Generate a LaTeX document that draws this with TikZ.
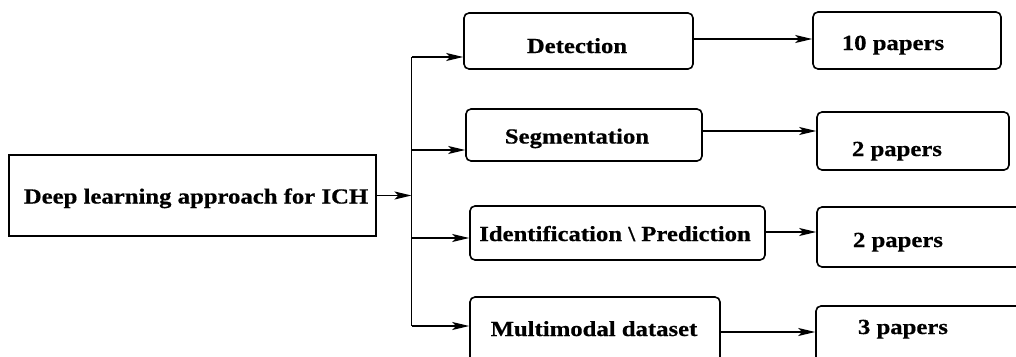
\documentclass[tikz,border=0pt]{standalone}
\usepackage{fontspec}
\setmainfont{Liberation Serif}[FakeStretch=1.15,FakeBold=0.6]
\usetikzlibrary{arrows.meta,calc}
\begin{document}
\begin{tikzpicture}[x=1pt,y=-1pt,
  box/.style={draw,line width=1.6pt,rounded corners=5pt,inner sep=0pt},
  mainbox/.style={draw,line width=1.6pt,inner sep=0pt},
  lbl/.style={inner sep=0pt,anchor=base,font=\fontsize{21.5}{24}\selectfont\bfseries},
  arr/.style={line width=1.6pt,-{Stealth[length=17pt,width=8pt,inset=4pt]}},
  ln/.style={line width=1.6pt}]
\useasboundingbox (0,0) rectangle (1016,356);
\clip (0,0) rectangle (1016,356);
% boxes
\node[mainbox,minimum width=367pt,minimum height=81pt] (main) at (192.5,195.5) {};
\node[box,minimum width=229pt,minimum height=56pt] (det) at (578.5,41) {};
\node[box,minimum width=236pt,minimum height=52pt] (seg) at (584,135) {};
\node[box,minimum width=295pt,minimum height=54pt] (ide) at (617.5,233) {};
\node[box,minimum width=250pt,minimum height=65pt] (mul) at (595,329.5) {};
\node[box,minimum width=188pt,minimum height=57pt] (p10) at (907,40.5) {};
\node[box,minimum width=192pt,minimum height=58pt] (p2a) at (913,141) {};
\node[box,minimum width=213pt,minimum height=60pt] (p2b) at (923.5,237) {};
\node[box,minimum width=214pt,minimum height=64pt] (p3) at (923,338) {};
% labels
\node[lbl] (mainT) at (196,203.5) {Deep learning approach for ICH};
\node[lbl] (detT) at (577,53) {Detection};
\node[lbl] (segT) at (577,143.5) {Segmentation};
\node[lbl] (ideT) at (615,241) {Identification \textbackslash\ Prediction};
\node[lbl] (mulT) at (594,336) {Multimodal dataset};
\node[lbl] (p10T) at (893,50) {10 papers};
\node[lbl] (p2aT) at (897,156) {2 papers};
\node[lbl] (p2bT) at (898,247) {2 papers};
\node[lbl] (p3T) at (903,334) {3 papers};
% trunk
\coordinate (j0) at (411.5,195.5);
\coordinate (b1) at (411.5,57);
\coordinate (b2) at (411.5,150);
\coordinate (b3) at (411.5,238);
\coordinate (b4) at (411.5,326);
\draw[arr] (main.east) -- (j0);
\draw[ln] (b1) -- (b4);
\draw[arr] (b1) -- (b1 -| det.west);
\draw[arr] (b2) -- (b2 -| seg.west);
\draw[arr] (b3) -- (b3 -| ide.west);
\draw[arr] (b4) -- (b4 -| mul.west);
% outcome arrows
\draw[arr] ([yshift=2pt]det.east) -- ([yshift=2pt]det.east -| p10.west);
\draw[arr] ([yshift=4pt]seg.east) -- ([yshift=4pt]seg.east -| p2a.west);
\draw[arr] ([yshift=1pt]ide.east) -- ([yshift=1pt]ide.east -| p2b.west);
\draw[arr] ([yshift=-2.5pt]mul.east) -- ([yshift=-2.5pt]mul.east -| p3.west);
\end{tikzpicture}
\end{document}
